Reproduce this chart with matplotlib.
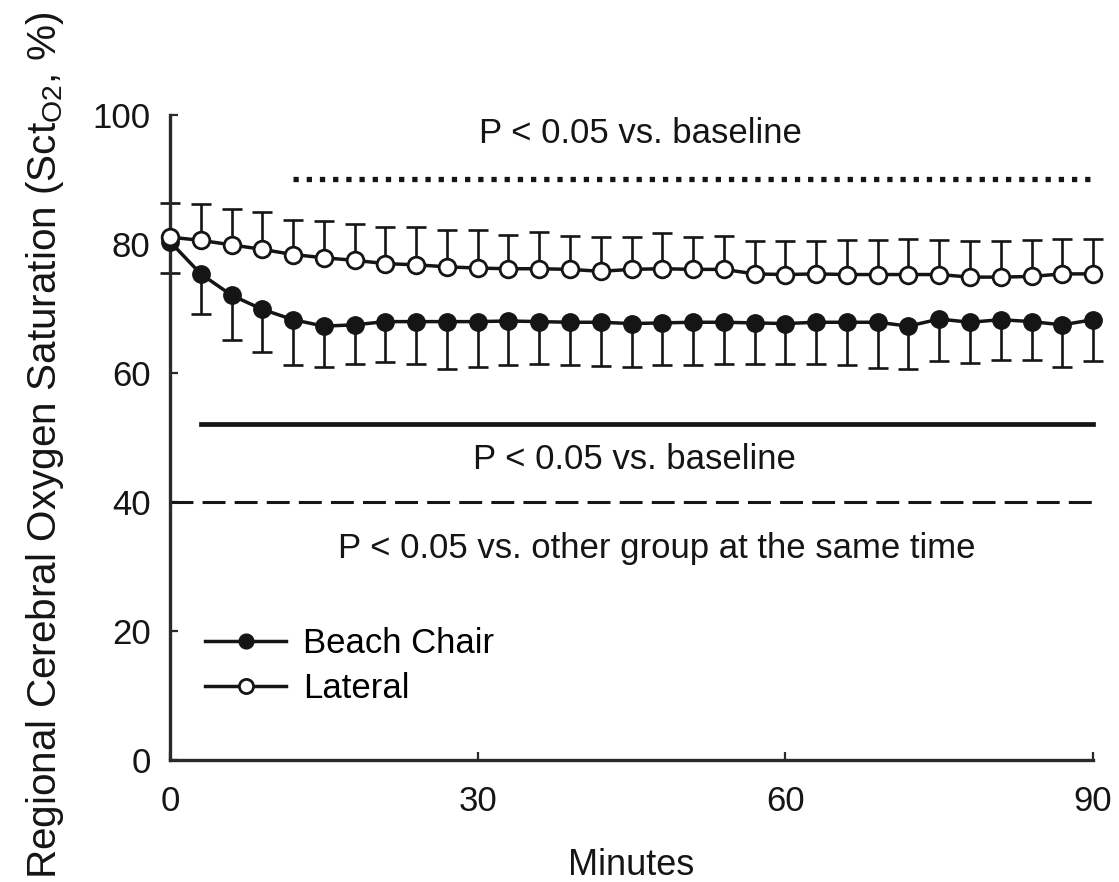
import numpy as np
import matplotlib
matplotlib.use('Agg')
import matplotlib.pyplot as plt

plt.rcParams['font.family'] = ['Liberation Sans', 'DejaVu Sans']
plt.rcParams['mathtext.fontset'] = 'custom'
plt.rcParams['mathtext.rm'] = 'Liberation Sans'
plt.rcParams['mathtext.it'] = 'Liberation Sans:italic'

# time points (min)
minutes = [0, 3, 6, 9, 12, 15, 18, 21, 24, 27, 30, 33, 36, 39, 42, 45,
           48, 51, 54, 57, 60, 63, 66, 69, 72, 75, 78, 81, 84, 87, 90]

# beach chair group: mean and SD (bars drawn downward)
beach_mean = [80.3, 75.3, 72.0, 69.8, 68.2, 67.2, 67.4, 67.9, 67.9, 67.9, 67.9,
              68.0, 67.9, 67.8, 67.8, 67.6, 67.7, 67.8, 67.8, 67.7, 67.6, 67.8,
              67.8, 67.8, 67.2, 68.3, 67.8, 68.2, 67.9, 67.4, 68.2]
beach_sd = [4.8, 6.2, 7.0, 6.6, 7.0, 6.4, 6.1, 6.2, 6.6, 7.4, 7.0,
            6.8, 6.6, 6.6, 6.8, 6.7, 6.5, 6.6, 6.5, 6.4, 6.3, 6.5,
            6.6, 7.1, 6.6, 6.5, 6.3, 6.2, 5.9, 6.6, 6.4]

# lateral group: mean and SD (bars drawn upward)
lateral_mean = [81.0, 80.5, 79.8, 79.1, 78.3, 77.8, 77.4, 76.9, 76.7, 76.4, 76.2,
                76.1, 76.1, 76.0, 75.7, 76.0, 76.1, 76.0, 76.0, 75.3, 75.2, 75.3,
                75.2, 75.2, 75.2, 75.2, 74.8, 74.8, 74.9, 75.3, 75.3]
lateral_sd = [5.3, 5.6, 5.5, 5.8, 5.4, 5.7, 5.7, 5.7, 5.9, 5.7, 5.9,
              5.3, 5.7, 5.1, 5.3, 5.0, 5.5, 5.0, 5.1, 5.1, 5.2, 5.1,
              5.4, 5.3, 5.5, 5.4, 5.6, 5.6, 5.6, 5.4, 5.4]

# significance bars: (start, end, level)
dotted_bar = (12, 90, 90)
solid_bar = (3, 90, 52)
dashed_bar = (0, 90, 40)

ink = '#151515'
fs = 25

fig = plt.figure(figsize=(11.19, 8.82), dpi=100)
ax = fig.add_axes([0.1519, 0.1388, 0.8249, 0.7313])

t = np.array(minutes)
bm = np.array(beach_mean)
bs = np.array(beach_sd)
lm = np.array(lateral_mean)
ls_ = np.array(lateral_sd)

# one-sided error bars
ax.vlines(t, bm - bs, bm, color=ink, lw=1.9, zorder=2, clip_on=False)
ax.plot(t, bm - bs, ls='none', marker='_', ms=14, mew=1.9, color=ink,
        zorder=2, clip_on=False)
ax.vlines(t, lm, lm + ls_, color=ink, lw=1.9, zorder=2, clip_on=False)
ax.plot(t, lm + ls_, ls='none', marker='_', ms=14, mew=1.9, color=ink,
        zorder=2, clip_on=False)

ax.plot(t, bm, '-o', color=ink, lw=2.5, ms=12.5, mfc=ink, mec=ink,
        label='Beach Chair', zorder=3, clip_on=False)
ax.plot(t, lm, '-o', color=ink, lw=2.5, ms=12, mfc='white', mec=ink,
        mew=2.0, label='Lateral', zorder=4, clip_on=False)

# significance markers
ax.plot(dotted_bar[:2], [dotted_bar[2]] * 2, color=ink, lw=3.8,
        ls=(0, (1, 1.5)), clip_on=False)
ax.plot(solid_bar[:2], [solid_bar[2]] * 2, color=ink, lw=3.4,
        clip_on=False)
ax.plot(dashed_bar[:2], [dashed_bar[2]] * 2, color=ink, lw=2.2,
        ls=(0, (7.5, 3)), clip_on=False)

ax.text(45.9, 97.1, 'P < 0.05 vs. baseline', ha='center', va='center',
        fontsize=fs, color=ink)
ax.text(45.3, 46.5, 'P < 0.05 vs. baseline', ha='center', va='center',
        fontsize=fs, color=ink)
ax.text(47.5, 32.7, 'P < 0.05 vs. other group at the same time',
        ha='center', va='center', fontsize=fs, color=ink)

ax.set_xlim(0, 90)
ax.set_ylim(0, 100)
ax.set_xticks([0, 30, 60, 90])
ax.set_yticks([0, 20, 40, 60, 80, 100])
for side in ['top', 'right']:
    ax.spines[side].set_visible(False)
for side in ['left', 'bottom']:
    ax.spines[side].set_linewidth(2.4)
    ax.spines[side].set_color('#2a2a2a')
ax.tick_params(axis='both', direction='in', length=6, width=1.6,
               colors='#2a2a2a', labelsize=fs, labelcolor=ink)
ax.tick_params(axis='y', pad=14)
ax.tick_params(axis='x', pad=18)

ax.legend(loc='upper left', bbox_to_anchor=(0.038, 0.205), frameon=False,
          fontsize=fs, handlelength=2.33, handletextpad=0.5,
          labelspacing=0.33, borderpad=0, borderaxespad=0, markerscale=0.85)

ax.set_xlabel('Minutes', fontsize=26, color=ink, labelpad=22)
fig.text(45 / 1119, 0.4955,
         r'Regional Cerebral Oxygen Saturation (Sct$_{\mathrm{O2}}$, %)',
         rotation=90, ha='center', va='center', fontsize=29.2, color=ink)

fig.savefig('out.png', dpi=100)
plt.close()
